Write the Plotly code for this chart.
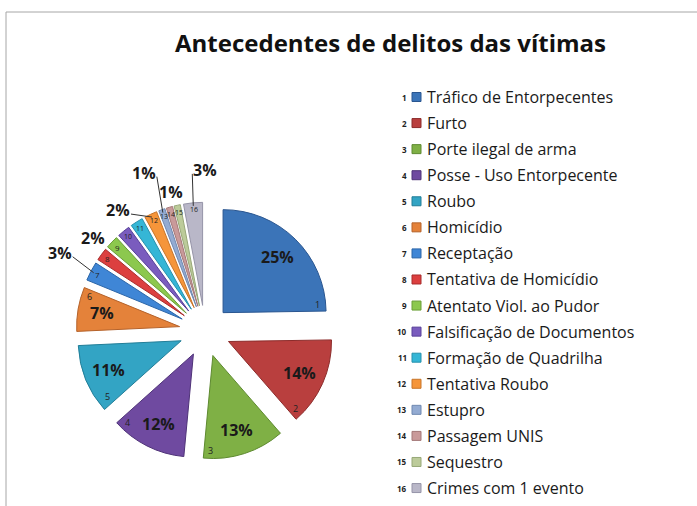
import math
import plotly.graph_objects as go

W, H = 697, 506

title_text = "Antecedentes de delitos das vítimas"

categories = [
    "Tráfico de Entorpecentes", "Furto", "Porte ilegal de arma",
    "Posse - Uso Entorpecente", "Roubo", "Homicídio", "Receptação",
    "Tentativa de Homicídio", "Atentato Viol. ao Pudor",
    "Falsificação de Documentos", "Formação de Quadrilha",
    "Tentativa Roubo", "Estupro", "Passagem UNIS", "Sequestro",
    "Crimes com 1 evento",
]
numbers = [str(i + 1) for i in range(len(categories))]
values = [25, 14, 13, 12, 11, 7, 3, 2, 2, 2, 2, 2, 1, 1, 1, 3]

colors = [
    "#3b74b8", "#b93f3e", "#7fb045", "#6f4aa0", "#33a4c4", "#e4823a",
    "#3f86d6", "#dc3f3f", "#8cc84e", "#7a5cbe", "#35b6d6", "#f5953a",
    "#93abd2", "#c99a9a", "#bccb9a", "#b9b7c8",
]
line_colors = [
    "#2a5690", "#8c2c2b", "#5e8a30", "#4f3378", "#227e98", "#b5622a",
    "#2c66a8", "#a82c2c", "#6a9e38", "#58409a", "#2690ac", "#c87428",
    "#6f88b0", "#a47878", "#98a878", "#9694a8",
]

# ---- label styling (positions relative to slices) ----
N_INSIDE = 6                      # first slices carry their % inside
num_anchor = ["end", "end", "end", "end", "start", "end"] + ["mid"] * 10
# outside % labels: slice index -> (dx, dy) pixel offset of text from slice rim, leader line?
outside_labels = {
    6: (-34, -20, True),
    7: (-11, -18, False),
    11: (-34, -7, True),
    12: (-19, -40, True),
    13: (1, -18, False),
    15: (12, -36, True),
}

FONT = "'Open Sans', sans-serif"

PULL = 0.25
cx, cy, half = 205, 331, 128.75
dom_x = [(cx - half) / W, (cx + half) / W]
dom_y = [1 - (cy + half) / H, 1 - (cy - half) / H]
radius = half / (1 + PULL)

fig = go.Figure()
fig.add_trace(go.Pie(
    labels=categories,
    values=values,
    sort=False,
    direction="clockwise",
    rotation=0,
    pull=[PULL] * len(values),
    marker=dict(colors=colors, line=dict(color=line_colors, width=1)),
    textinfo="none",
    domain=dict(x=dom_x, y=dom_y),
    showlegend=False,
    hoverinfo="label+percent",
))

shapes = [
    dict(type="line", xref="paper", yref="paper", x0=6 / W, x1=1, y0=1 - 12 / H, y1=1 - 12 / H,
         line=dict(color="#a6a6a6", width=1)),
    dict(type="line", xref="paper", yref="paper", x0=6 / W, x1=6 / W, y0=0, y1=1 - 12 / H,
         line=dict(color="#a6a6a6", width=1)),
]
annotations = [
    dict(text=title_text, xref="paper", yref="paper", x=390 / W, y=1 - 43 / H,
         xanchor="center", yanchor="middle", showarrow=False,
         font=dict(family=FONT, size=24, color="#111111", weight="bold")),
]


def slice_point(mid, ang, rr):
    """pixel position at angle ang / distance rr from the pulled vertex of a slice"""
    vx = cx + PULL * radius * math.sin(math.radians(mid))
    vy = cy - PULL * radius * math.cos(math.radians(mid))
    return (vx + rr * math.sin(math.radians(ang)),
            vy - rr * math.cos(math.radians(ang)))


total = sum(values)
acc = 0.0
for i, (num, v, anc) in enumerate(zip(numbers, values, num_anchor)):
    a0 = 360.0 * acc / total
    a1 = 360.0 * (acc + v) / total
    acc += v
    mid = (a0 + a1) / 2
    pct = f"{round(100 * v / total)}%"

    # slice number
    if anc == "end":
        ang, rr = a1 - 4, 0.92 * radius
    elif anc == "start":
        ang, rr = a0 + 5, 0.9 * radius
    else:
        ang, rr = mid, 0.93 * radius
    px, py = slice_point(mid, ang, rr)
    nsize = 9 if i < N_INSIDE else (8 if len(num) == 1 else 7)
    annotations.append(dict(text=num, xref="paper", yref="paper", x=px / W, y=1 - py / H,
                            xanchor="center", yanchor="middle", showarrow=False,
                            font=dict(family=FONT, size=nsize, color="#222222")))

    # percentage
    if i < N_INSIDE:
        px, py = slice_point(mid, mid, 0.76 * radius)
        annotations.append(dict(text=pct, xref="paper", yref="paper", x=px / W, y=1 - py / H,
                                xanchor="center", yanchor="middle", showarrow=False,
                                font=dict(family=FONT, size=16, color="#1a1a1a",
                                          weight="bold")))
    elif i in outside_labels:
        dx, ddy, leader = outside_labels[i]
        tx, ty = slice_point(mid, mid, 0.97 * radius)
        lx, ly = tx + dx, ty + ddy
        annotations.append(dict(text=pct, xref="paper", yref="paper",
                                x=lx / W, y=1 - ly / H,
                                xanchor="center", yanchor="middle", showarrow=False,
                                font=dict(family=FONT, size=16, color="#1a1a1a",
                                          weight="bold")))
        if leader:
            s = 1 if tx > lx else -1
            sx, sy = lx + s * 13, ly + 4
            shapes.append(dict(type="line", xref="paper", yref="paper",
                               x0=sx / W, y0=1 - sy / H, x1=tx / W, y1=1 - ty / H,
                               line=dict(color="#333333", width=1)))

# legend, drawn by hand so the small index numbers can precede the swatches
y0, dy = 97, 26.07
for i, (num, cat, col, lc) in enumerate(zip(numbers, categories, colors, line_colors)):
    yy = y0 + i * dy
    annotations.append(dict(text=num, xref="paper", yref="paper", x=409 / W, y=1 - yy / H,
                            xanchor="right", yanchor="middle", showarrow=False,
                            font=dict(family=FONT, size=8, color="#222222", weight="bold")))
    annotations.append(dict(text=cat, xref="paper", yref="paper", x=425 / W, y=1 - yy / H,
                            xanchor="left", yanchor="middle", showarrow=False,
                            font=dict(family=FONT, size=16, color="#1a1a1a")))
    shapes.append(dict(type="rect", xref="paper", yref="paper",
                       x0=412 / W, x1=421 / W, y0=1 - (yy + 4.5) / H, y1=1 - (yy - 4.5) / H,
                       fillcolor=col, line=dict(color=lc, width=1)))

fig.update_layout(
    width=W, height=H,
    margin=dict(l=0, r=0, t=0, b=0, autoexpand=False),
    paper_bgcolor="white",
    plot_bgcolor="white",
    shapes=shapes,
    annotations=annotations,
    font=dict(family=FONT),
)

fig.write_html(
    "out.html",
    config={"displayModeBar": False},
    post_script="document.body.style.margin='0px';document.body.style.overflow='hidden';",
)
